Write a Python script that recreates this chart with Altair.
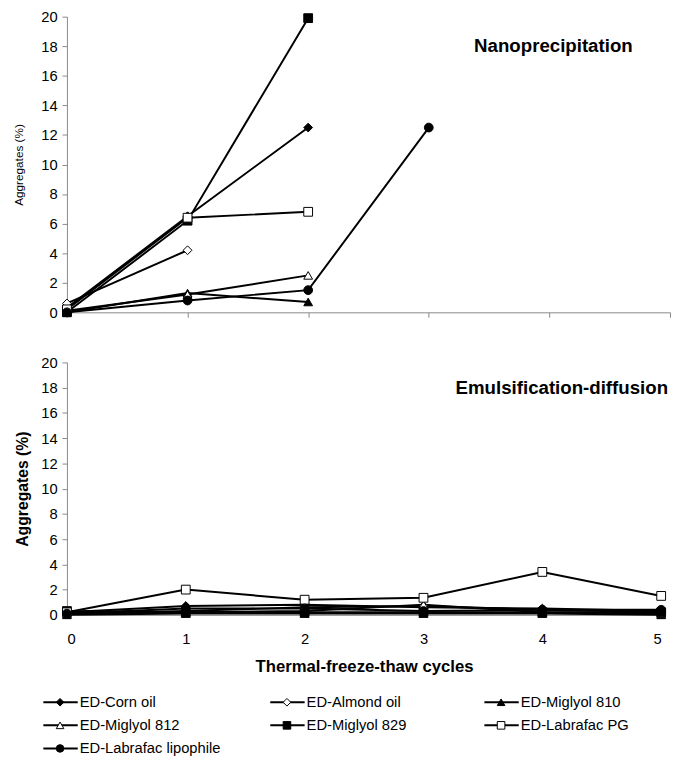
import altair as alt
import pandas as pd

series = ["ED-Corn oil", "ED-Almond oil", "ED-Miglyol 810", "ED-Miglyol 812",
          "ED-Miglyol 829", "ED-Labrafac PG", "ED-Labrafac lipophile"]
shapes = ["diamond", "diamond", "triangle-up", "triangle-up", "square", "square", "circle"]
fills = ["black", "white", "black", "white", "black", "white", "black"]

# Nanoprecipitation (top panel), cycles 0..3 (None = not measured)
np_cycles = [0, 1, 2, 3]
np_corn = [0.3, 6.5, 12.5, None]
np_almond = [0.6, 4.2, None, None]
np_m810 = [0.0, 1.3, 0.7, None]
np_m812 = [0.1, 1.2, 2.5, None]
np_m829 = [0.0, 6.2, 19.9, None]
np_labpg = [0.2, 6.4, 6.8, None]
np_lablip = [0.0, 0.8, 1.5, 12.5]

# Emulsification-diffusion (bottom panel), cycles 0..5
ed_cycles = [0, 1, 2, 3, 4, 5]
ed_corn = [0.2, 0.7, 0.8, 0.6, 0.5, 0.3]
ed_almond = [0.1, 0.3, 0.6, 0.7, 0.4, 0.2]
ed_m810 = [0.0, 0.1, 0.1, 0.1, 0.1, 0.0]
ed_m812 = [0.1, 0.2, 0.3, 0.8, 0.2, 0.1]
ed_m829 = [0.3, 0.2, 0.2, 0.2, 0.2, 0.2]
ed_labpg = [0.2, 2.0, 1.2, 1.35, 3.4, 1.5]
ed_lablip = [0.1, 0.5, 0.5, 0.3, 0.4, 0.4]

y_ticks = [0, 2, 4, 6, 8, 10, 12, 14, 16, 18, 20]
x_ticks = [0, 1, 2, 3, 4, 5]


def long_df(cycles, cols):
    rows = []
    for name, vals in zip(series, cols):
        for c, v in zip(cycles, vals):
            if v is not None:
                rows.append({"series": name, "cycle": c, "value": v})
    return pd.DataFrame(rows)


df_np = long_df(np_cycles, [np_corn, np_almond, np_m810, np_m812, np_m829, np_labpg, np_lablip])
df_ed = long_df(ed_cycles, [ed_corn, ed_almond, ed_m810, ed_m812, ed_m829, ed_labpg, ed_lablip])

FONT = "Liberation Sans"
W_TOP = 614
W_BOT = 605
H_TOP = 301
H_BOT = 257
shape_scale = alt.Scale(domain=series, range=shapes)
fill_scale = alt.Scale(domain=series, range=fills)
y_scale = alt.Scale(domain=[0, 20], nice=False, zero=True)
x_scale = alt.Scale(domain=[0, 5], nice=False)


def panel(df, title_text, title_x, title_y, show_x_labels,
          ytitle_size, ytitle_weight, ytitle_pad):
    if show_x_labels:
        xaxis = alt.Axis(values=x_ticks, labels=True, format="d", title="Thermal-freeze-thaw cycles",
                         titleFontWeight="bold", titleFontSize=17, labelFontSize=15,
                         labelPadding=17, titlePadding=13, ticks=False, grid=False,
                         labelOverlap=False, domainColor="#888888")
    else:
        xaxis = alt.Axis(values=x_ticks, labels=False, title=None, ticks=True, tickSize=5,
                         tickColor="#888888", grid=False, domainColor="#888888")
    yaxis = alt.Axis(values=y_ticks, tickCount=11, title="Aggregates (%)", titleFontSize=ytitle_size,
                     titleFontWeight=ytitle_weight, labelFontSize=15, grid=False,
                     tickSize=5, tickColor="#888888", domainColor="#888888",
                     labelPadding=5, titlePadding=ytitle_pad, labelOverlap=False,
                     labelFlush=False, format="d")
    base = alt.Chart(df)
    xenc = alt.X("cycle:Q", scale=x_scale, axis=xaxis)
    yenc = alt.Y("value:Q", scale=y_scale, axis=yaxis)
    lines = base.mark_line(color="black", strokeWidth=2).encode(
        x=xenc, y=yenc, detail="series:N",
    )
    pts = base.mark_point(filled=True, stroke="black", strokeWidth=1, size=80, opacity=1).encode(
        x=xenc, y=yenc,
        shape=alt.Shape("series:N", scale=shape_scale, legend=None),
        fill=alt.Fill("series:N", scale=fill_scale, legend=None),
    )
    label = alt.Chart(pd.DataFrame({"t": [title_text]})).mark_text(
        font=FONT, fontSize=19, fontWeight="bold", align="right", baseline="middle", color="black"
    ).encode(text="t:N", x=alt.value(title_x), y=alt.value(title_y))
    return alt.layer(lines, pts, label)


top = panel(df_np, "Nanoprecipitation", 576, 30, False, 12, "normal", 16).properties(
    width=W_TOP, height=H_TOP)
bottom_plot = panel(df_ed, "Emulsification-diffusion", 612, 26, True, 16, "bold", 10)

# legend, drawn below the bottom panel (columns in page-like coordinates)
legend_col_x = [43, 274, 492]
PLOT_LEFT = 67
leg = pd.DataFrame({"series": series})
leg["idx"] = range(len(series))
leg["col"] = leg["idx"] % 3
leg["row"] = leg["idx"] // 3
leg["x0"] = [legend_col_x[c] for c in leg["col"]]
leg["x1"] = leg["x0"] + 35
leg["xm"] = leg["x0"] + 17
leg["xt"] = leg["x0"] + 37
lx = alt.Scale(domain=[PLOT_LEFT, PLOT_LEFT + W_BOT], range=[0, W_BOT], nice=False, zero=False)
ly = alt.Scale(domain=[0, 2], range=[346, 393], nice=False, zero=False)
lbase = alt.Chart(leg)
lrule = lbase.mark_rule(color="black", strokeWidth=2).encode(
    x=alt.X("x0:Q", scale=lx, axis=None), x2="x1:Q",
    y=alt.Y("row:Q", scale=ly, axis=None))
lpts = lbase.mark_point(filled=True, stroke="black", strokeWidth=1, size=60, opacity=1).encode(
    x=alt.X("xm:Q", scale=lx, axis=None),
    y=alt.Y("row:Q", scale=ly, axis=None),
    shape=alt.Shape("series:N", scale=shape_scale, legend=None),
    fill=alt.Fill("series:N", scale=fill_scale, legend=None))
ltext = lbase.mark_text(align="left", baseline="middle", font=FONT, fontSize=15, color="black").encode(
    x=alt.X("xt:Q", scale=lx, axis=None),
    y=alt.Y("row:Q", scale=ly, axis=None),
    text="series:N")
legend = alt.layer(lrule, lpts, ltext)

bottom = alt.layer(bottom_plot, legend).resolve_scale(
    x="independent", y="independent").properties(width=W_BOT, height=H_BOT)

chart = alt.vconcat(top, bottom, spacing=36).configure(
    font=FONT,
    padding={"left": 4, "top": -5, "right": 0, "bottom": 0},
).configure_view(stroke=None).configure_axis(
    labelFont=FONT, titleFont=FONT, labelColor="black", titleColor="black", labelOverlap=False
).configure_concat(spacing=36)

chart.save("out.html", embed_options={"renderer": "svg", "actions": False})
